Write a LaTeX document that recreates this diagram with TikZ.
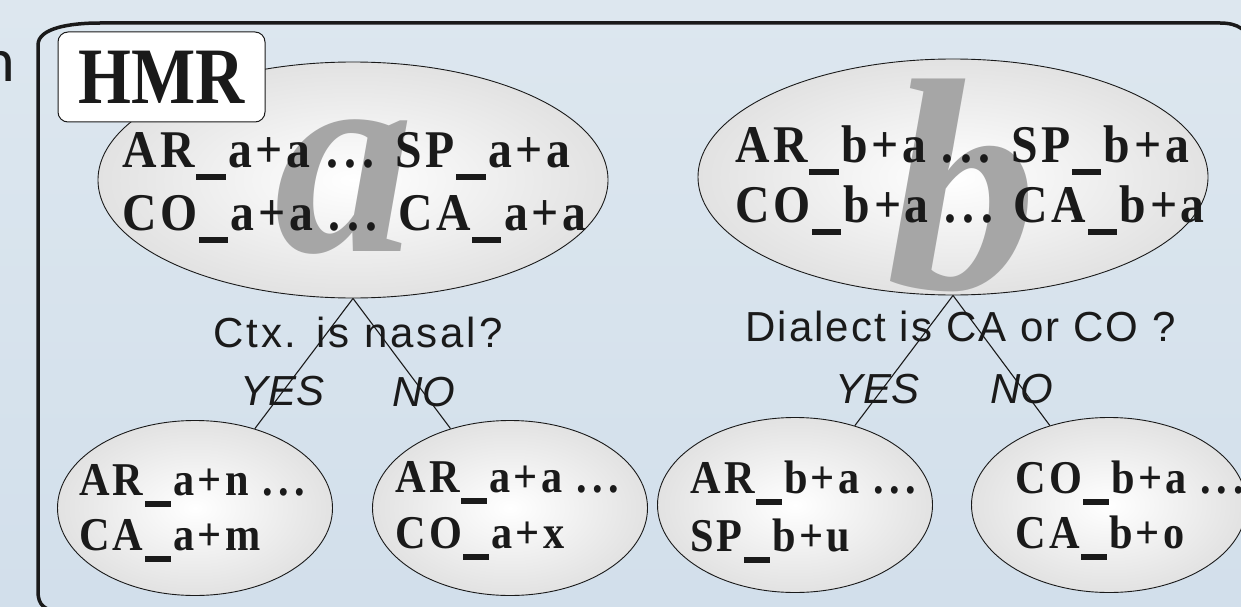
\documentclass[tikz,border=0pt]{standalone}
\usepackage{fontspec}
\setmainfont{Liberation Serif}
\newfontfamily\labfont[FakeStretch=0.9,LetterSpace=7]{Liberation Serif}
\newfontfamily\hmrfont[FakeStretch=0.85]{Liberation Serif}
\newfontfamily\bigfont{Liberation Serif}
\newfontfamily\qfont{Liberation Sans}
\newfontfamily\nfont{Carlito}
\usetikzlibrary{shapes.geometric}
\definecolor{bgtop}{HTML}{DDE7EF}
\definecolor{bgbot}{HTML}{D2DFEB}
\definecolor{biggray}{HTML}{A6A6A6}
\definecolor{bubout}{HTML}{E2E2E2}
\definecolor{ink}{HTML}{1A1A1A}
\newcommand\us{\kern0.03em\rule[-0.245em]{0.55em}{0.11em}\kern0.05em}
\newcommand\dd{.\kern0.12em.\kern0.12em.}
\begin{document}
\begin{tikzpicture}[x=1pt,y=-1pt,
  bubble/.style={draw=ink, line width=0.9pt, ellipse, inner sep=0pt, inner color=white, outer color=bubout},
  bigbub/.style={bubble, minimum width=510pt, minimum height=236pt},
  smallbub/.style={bubble, minimum width=275pt, minimum height=175pt},
  biglet/.style={inner sep=0pt, text=biggray, font=\bigfont\bfseries\itshape},
  labtop/.style={inner sep=0pt, anchor=base west, text=ink, font=\labfont\bfseries\fontsize{53}{60}\selectfont},
  labbot/.style={inner sep=0pt, anchor=base west, text=ink, font=\labfont\bfseries\fontsize{47}{54}\selectfont},
  quest/.style={inner sep=0pt, anchor=base west, text=ink, font=\qfont\fontsize{42}{48}\selectfont},
  ans/.style={inner sep=0pt, anchor=base west, text=ink, font=\qfont\itshape\fontsize{42}{48}\selectfont},
  conn/.style={draw=ink, line width=1.1pt},
  frame/.style={draw=ink, line width=3.5pt},
  hmrbox/.style={draw=ink, line width=1pt, fill=white, rounded corners=10pt, minimum width=207pt, minimum height=90pt, inner sep=0pt, text=ink, font=\hmrfont\bfseries\fontsize{80}{90}\selectfont}
]
\useasboundingbox (0,0) rectangle (1241,607);
\clip (0,0) rectangle (1241,607);
\fill[top color=bgtop, bottom color=bgbot] (0,0) rectangle (1241,607);

% partial text at the left edge
\node[inner sep=0pt, anchor=base east, text=ink, font=\nfont\fontsize{62}{70}\selectfont] (ncut) at (15,82) {n};

% frame
\draw[frame] (100,23) .. controls (70,23) and (38,28) .. (38,45) -- (38,592) .. controls (38,605) and (45,611) .. (60,611) -- (1260,611);
\draw[frame] (100,23) -- (1220,23) .. controls (1238,23) and (1248,30) .. (1252,45);

% top ellipses
\node[bigbub] (A) at (353,180) {};
\node[bigbub] (B) at (953,177) {};
\node[biglet, anchor=base, font=\bigfont\bfseries\itshape\fontsize{280}{280}\selectfont] (la) at (344,251) {a};
\node[biglet, anchor=base, font=\bigfont\bfseries\itshape\fontsize{302}{302}\selectfont] (lb) at (962,288) {b};
\node[labtop] (a1) at (122,167) {AR\us a+a \dd{} SP\us a+a};
\node[labtop] (a2) at (122,230) {CO\us a+a \dd{} CA\us a+a};
\node[labtop] (b1) at (735,162) {AR\us b+a \dd{} SP\us b+a};
\node[labtop] (b2) at (735,222) {CO\us b+a \dd{} CA\us b+a};

% HMR label
\node[hmrbox] (hmr) at (161.5,77) {HMR};

% bottom ellipses
\node[smallbub] (AY) at (195,508) {};
\node[smallbub] (AN) at (510,508) {};
\node[smallbub] (BY) at (795,505) {};
\node[smallbub] (BN) at (1109,505) {};
\node[labbot] (ay1) at (79,495) {AR\us a+n \dd};
\node[labbot] (ay2) at (79,550) {CA\us a+m};
\node[labbot] (an1) at (395,492) {AR\us a+a \dd};
\node[labbot] (an2) at (395,548) {CO\us a+x};
\node[labbot] (by1) at (690,493) {AR\us b+a \dd};
\node[labbot] (by2) at (690,551) {SP\us b+u};
\node[labbot] (bn1) at (1015,493) {CO\us b+a \dd};
\node[labbot] (bn2) at (1015,548) {CA\us b+o};

% questions and answers
\node[quest] (qa) at (213,347) {\addfontfeature{LetterSpace=7}Ctx. is nasal?};
\node[ans] (ya) at (240,405) {YES};
\node[ans] (na) at (392,406) {NO};
\node[quest] (qb) at (745,341) {\addfontfeature{LetterSpace=5}Dialect is CA or CO ?};
\node[ans] (yb) at (835,403) {YES};
\node[ans] (nb) at (990,403) {NO};

% connectors
\draw[conn] (A.south) -- (AY);
\draw[conn] (A.south) -- (AN);
\draw[conn] (B.south) -- (BY);
\draw[conn] (B.south) -- (BN);
\end{tikzpicture}
\end{document}
